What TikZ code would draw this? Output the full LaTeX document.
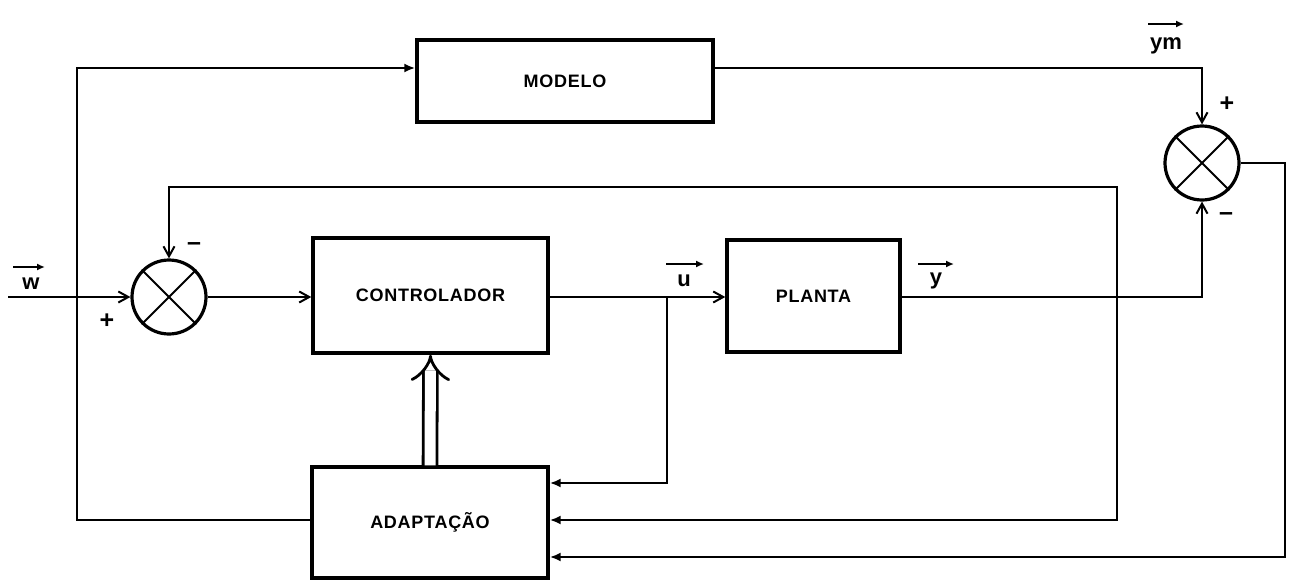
\documentclass[tikz,border=0pt]{standalone}
\usepackage{fontspec}
\setmainfont{Liberation Sans}
\usetikzlibrary{arrows.meta,calc}
\begin{document}
\begin{tikzpicture}[x=1pt,y=-1pt,
 blk/.style={draw,line width=3.4pt,rectangle,inner sep=0pt,font=\fontsize{18}{18}\selectfont\bfseries\addfontfeatures{LetterSpace=4}},
 sumj/.style={draw,circle,line width=3.2pt,minimum size=74pt,inner sep=0pt},
 wire/.style={line width=2.2pt},
 xw/.style={line width=1.8pt},
 arr/.style={wire,-{Straight Barb[length=10pt,width=11pt,line width=2pt]}},
 arrf/.style={wire,-{Latex[length=11pt,width=9pt]}},
 darr/.style={wire,{Straight Barb[length=10pt,width=11pt,line width=2pt]}-{Latex[length=11pt,width=9pt]}},
 lab/.style={font=\fontsize{22}{22}\selectfont\bfseries,inner sep=0pt},
 vec/.style={line width=2pt,-{Latex[length=8pt,width=7pt]}},
 sgn/.style={font=\fontsize{25}{25}\selectfont\bfseries,inner sep=0pt}]
\useasboundingbox (0,0) rectangle (1296,581);

% blocks
\node[blk,minimum width=296pt,minimum height=82pt] (modelo) at (565,81) {MODELO};
\node[blk,minimum width=235pt,minimum height=115pt] (ctrl) at (430.5,295.5) {CONTROLADOR};
\node[blk,minimum width=173pt,minimum height=112pt] (planta) at (813.5,296) {PLANTA};
\node[blk,minimum width=236pt,minimum height=111pt] (adapt) at (430,522.5) {ADAPTAÇÃO};

% summing junctions
\node[sumj] (s1) at (169,297) {};
\node[sumj] (s2) at (1202,163) {};
\draw[xw] (s1.north east) -- (s1.south west) (s1.north west) -- (s1.south east);
\draw[xw] (s2.north east) -- (s2.south west) (s2.north west) -- (s2.south east);

% free ends / corners
\coordinate (win) at (8,297);
\coordinate (cL) at (77,68);
\coordinate (ub) at (667,297);
\coordinate (fb) at (1117,187);
\coordinate (eR) at (1285,163);

% input w
\draw[arr] (win) -- (s1.west);
% line to the model
\draw[arrf] (adapt.west |- 0,520) -| (cL) -- (modelo.west |- cL);
% sum1 -> controller
\draw[arr] (s1.east) -- (ctrl.west |- s1.east);
% controller -> plant
\draw[arr] (ctrl.east |- 0,297) -- (planta.west |- 0,297);
% u branch -> adaptation
\draw[arrf] (ub) |- (adapt.east |- 0,483);
% plant output y -> sum2
\draw[arr] (planta.east |- 0,297) -| (s2.south);
% model output ym -> sum2
\draw[arr] (modelo.east |- cL) -| (s2.north);
% feedback -> sum1 and adaptation
\draw[darr] (s1.north) |- (fb) |- (adapt.east |- 0,520);
% error -> adaptation
\draw[arrf] (s2.east) -| (eR) |- (adapt.east |- 0,557);
% adaptation -> controller (double arrow)
\draw[line width=2.8pt,double,double distance=11pt,-{Implies}] (adapt.north) -- (ctrl.south);

% signal labels
\node[lab] (lw) at (31,284) {w};
\draw[vec] ($(lw)+(-18,-17)$) -- ($(lw)+(14,-17)$);
\node[lab] (lu) at (684,281) {u};
\draw[vec] ($(lu)+(-18,-17)$) -- ($(lu)+(20,-17)$);
\node[lab] (ly) at (936,281) {y};
\draw[vec] ($(ly)+(-18,-17)$) -- ($(ly)+(18,-17)$);
\node[lab] (lym) at (1166,46) {ym};
\draw[vec] ($(lym)+(-18,-22)$) -- ($(lym)+(18,-22)$);

% signs
\node[sgn] (p1) at (107,321) {+};
\node[sgn] (m1) at (194,247) {–};
\node[sgn] (p2) at (1227,104) {+};
\node[sgn] (m2) at (1226,217) {–};
\end{tikzpicture}
\end{document}
